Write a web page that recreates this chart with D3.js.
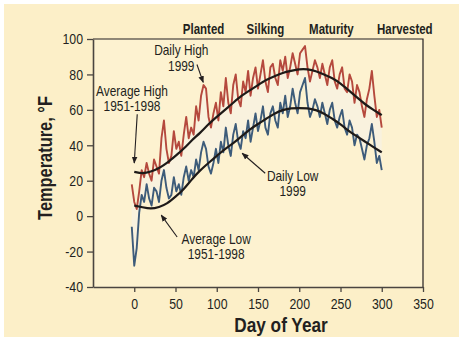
<!DOCTYPE html>
<html>
<head>
<meta charset="utf-8">
<script src="https://cdn.jsdelivr.net/npm/d3@7"></script>
<style>
  html, body { margin: 0; padding: 0; background: #ffffff; }
  svg { display: block; }
  text { font-family: "Liberation Sans", Arial, sans-serif; fill: #231f20; }
</style>
</head>
<body>
<div id="chart"></div>
<script>
// 30-year averages, every 10 days
const avgDays = [0, 10, 20, 30, 40, 50, 60, 70, 80, 90, 100, 110, 120, 130, 140, 150,
  160, 170, 180, 190, 200, 210, 220, 230, 240, 250, 260, 270, 280, 290, 300];
const avgHigh = [25, 24, 25, 27, 30, 34, 38, 43, 47, 52, 56, 60, 64, 68, 71, 74,
  77, 79, 81, 82, 83, 83, 82, 80, 78, 75, 71, 67, 63, 60, 57];
const avgLow = [6, 5, 4, 5, 7, 11, 15, 21, 26, 30, 34, 38, 41, 45, 49, 52,
  55, 58, 60, 61, 61, 61, 60, 58, 55, 52, 48, 45, 42, 39, 36];

// 1999 daily readings, read every 3rd day from day -3
const dailyDays = [-3, 0, 3, 6, 9, 12, 15, 18, 21, 24, 27, 30, 33, 36, 39, 42, 45, 48, 51, 54,
  57, 60, 63, 66, 69, 72, 75, 78, 81, 84, 87, 90, 93, 96, 99, 102, 105, 108, 111, 114,
  117, 120, 123, 126, 129, 132, 135, 138, 141, 144, 147, 150, 153, 156, 159, 162, 165, 168, 171, 174,
  177, 180, 183, 186, 189, 192, 195, 198, 201, 204, 207, 210, 213, 216, 219, 222, 225, 228, 231, 234,
  237, 240, 243, 246, 249, 252, 255, 258, 261, 264, 267, 270, 273, 276, 279, 282, 285, 288, 291, 294,
  297, 300];
const dailyHigh = [18, 8, 4, 14, 26, 22, 30, 24, 20, 32, 28, 24, 44, 54, 38, 30, 34, 48, 38, 42,
  34, 46, 56, 44, 50, 46, 62, 54, 68, 74, 72, 56, 50, 58, 64, 54, 70, 62, 78, 64,
  58, 74, 80, 66, 62, 76, 70, 82, 68, 78, 84, 72, 80, 88, 76, 70, 84, 86, 78, 74,
  88, 82, 90, 78, 84, 92, 86, 80, 92, 94, 96, 84, 76, 82, 88, 84, 78, 86, 80, 74,
  84, 88, 76, 72, 80, 84, 72, 70, 80, 76, 64, 74, 70, 62, 56, 66, 72, 82, 68, 56,
  60, 50];
const dailyLow = [-6, -28, -18, 2, 12, 8, 18, 10, 6, 16, 14, 8, 20, 26, 16, 10, 12, 22, 14, 18,
  12, 22, 28, 20, 26, 22, 32, 26, 36, 42, 38, 28, 24, 30, 38, 30, 42, 36, 50, 40,
  34, 46, 52, 42, 38, 48, 44, 54, 42, 50, 58, 48, 54, 62, 50, 46, 58, 62, 54, 50,
  64, 58, 68, 56, 62, 72, 64, 58, 70, 74, 78, 64, 56, 60, 66, 62, 56, 64, 58, 52,
  60, 64, 54, 50, 56, 60, 50, 46, 54, 50, 40, 46, 44, 38, 32, 40, 44, 52, 42, 30,
  34, 26];

const stageNames = ["Planted", "Silking", "Maturity", "Harvested"];
const stageDays = [118, 202, 271, 300];

const xTicks = [0, 50, 100, 150, 200, 250, 300, 350];
const yTicks = [-40, -20, 0, 20, 40, 60, 80, 100];

const W = 459, H = 343;
const plot = { left: 93, right: 423, top: 39, bottom: 287 };
const NARROW = 0.82; // squeeze Liberation Sans to a narrow cut

function narrow(sel) {
  sel.each(function () {
    const w = this.getComputedTextLength();
    d3.select(this).attr("textLength", w * NARROW).attr("lengthAdjust", "spacingAndGlyphs");
  });
}

const svg = d3.select("#chart").append("svg")
  .attr("width", W).attr("height", H);

const defs = svg.append("defs");
defs.append("filter").attr("id", "soft")
  .append("feGaussianBlur").attr("stdDeviation", 0.6);
defs.append("marker")
  .attr("id", "arrow")
  .attr("viewBox", "0 0 10 10")
  .attr("refX", 9).attr("refY", 5)
  .attr("markerWidth", 7).attr("markerHeight", 7)
  .attr("markerUnits", "userSpaceOnUse")
  .attr("orient", "auto")
  .append("path").attr("d", "M0,1 L10,5 L0,9 Z").attr("fill", "#231f20");

// cream panel
svg.append("rect")
  .attr("x", 4).attr("y", 4).attr("width", W - 4).attr("height", 333)
  .attr("fill", "#fcefc8");
svg.append("rect")
  .attr("x", plot.left).attr("y", plot.top)
  .attr("width", plot.right - plot.left).attr("height", plot.bottom - plot.top)
  .attr("fill", "#fdf2d0");

const x = d3.scaleLinear().domain([-50, 350]).range([plot.left, plot.right]);
const y = d3.scaleLinear().domain([-40, 100]).range([plot.bottom, plot.top]);

// growth stage lines
svg.append("g").selectAll("line")
  .data(stageDays)
  .enter().append("line")
  .attr("x1", d => x(d)).attr("x2", d => x(d))
  .attr("y1", plot.top).attr("y2", plot.bottom)
  .attr("stroke", "#bcaa86")
  .attr("stroke-width", 3.2)
  .attr("opacity", 0.85)
  .attr("filter", "url(#soft)");

const stageLabelDays = [84, 159, 239, 328];
svg.append("g").selectAll("text")
  .data(stageNames)
  .enter().append("text")
  .attr("x", (d, i) => x(stageLabelDays[i]))
  .attr("y", 34)
  .attr("text-anchor", "middle")
  .style("font-size", "14px")
  .style("font-weight", "bold")
  .text(d => d)
  .call(narrow);

// daily 1999 series
const daily = dailyDays.map((d, i) => ({ day: d, hi: dailyHigh[i], lo: dailyLow[i] }));
const series = svg.append("g").attr("filter", "url(#soft)");

series.append("path")
  .datum(daily)
  .attr("fill", "#f7f1e8")
  .attr("opacity", 0.6)
  .attr("d", d3.area().x(d => x(d.day)).y0(d => y(d.lo)).y1(d => y(d.hi)));

series.append("path")
  .datum(daily)
  .attr("fill", "none")
  .attr("stroke", "#b5493d")
  .attr("stroke-width", 1.9)
  .attr("stroke-linejoin", "round")
  .attr("d", d3.line().x(d => x(d.day)).y(d => y(d.hi)));

series.append("path")
  .datum(daily)
  .attr("fill", "none")
  .attr("stroke", "#3e5b7a")
  .attr("stroke-width", 1.9)
  .attr("stroke-linejoin", "round")
  .attr("d", d3.line().x(d => x(d.day)).y(d => y(d.lo)));

// long-term averages
const avgLine = d3.line()
  .curve(d3.curveBasis)
  .x((d, i) => x(avgDays[i]))
  .y(d => y(d));

[avgHigh, avgLow].forEach(vals => {
  svg.append("path")
    .attr("fill", "none")
    .attr("stroke", "#1e1a18")
    .attr("stroke-width", 2.2)
    .attr("d", avgLine(vals));
});

// frame
svg.append("path")
  .attr("d", `M${plot.left},${plot.top}H${plot.right}V${plot.bottom}`)
  .attr("fill", "none")
  .attr("stroke", "#231f20")
  .attr("stroke-width", 1.2);

// axes
const xAxis = svg.append("g")
  .attr("transform", `translate(0,${plot.bottom})`)
  .call(d3.axisBottom(x).tickValues(xTicks).tickSize(5).tickSizeOuter(0).tickPadding(6));
const yAxis = svg.append("g")
  .attr("transform", `translate(${plot.left},0)`)
  .call(d3.axisLeft(y).tickValues(yTicks).tickSize(6).tickSizeOuter(0).tickPadding(4)
    .tickFormat(d => String(d)));

[xAxis, yAxis].forEach(g => {
  g.select(".domain").attr("stroke", "#4a4540").attr("stroke-width", 1.6);
  g.selectAll(".tick line").attr("stroke", "#4a4540").attr("stroke-width", 1.3);
  g.selectAll(".tick text")
    .style("font-family", '"Liberation Sans", Arial, sans-serif')
    .style("font-size", "15px")
    .attr("fill", "#231f20")
    .call(narrow);
});

svg.append("text")
  .attr("transform", `translate(52,158) rotate(-90)`)
  .attr("text-anchor", "middle")
  .style("font-size", "20px")
  .style("font-weight", "bold")
  .text("Temperature, °F")
  .call(narrow);

svg.append("text")
  .attr("x", 281).attr("y", 332)
  .attr("text-anchor", "middle")
  .style("font-size", "21px")
  .style("font-weight", "bold")
  .text("Day of Year")
  .call(narrow);

// callouts, in data units
const notes = [
  { lines: ["Daily High", "1999"], at: [57, 90.7, 82.2], from: [76, 85.6], to: [83.6, 75.5] },
  { lines: ["Average High", "1951-1998"], at: [-2.7, 67.6, 59.2], from: [3.6, 57.5], to: [0, 30] },
  { lines: ["Daily Low", "1999"], at: [192, 19.7, 11.3], from: [158.7, 24.2], to: [130.8, 35.5] },
  { lines: ["Average Low", "1951-1998"], at: [99.3, -15.8, -24.2], from: [52, -11.8], to: [32.7, 0.6] }
];

const noteG = svg.append("g");
notes.forEach(n => {
  n.lines.forEach((t, i) => {
    noteG.append("text")
      .attr("x", x(n.at[0]))
      .attr("y", y(n.at[1 + i]))
      .attr("text-anchor", "middle")
      .style("font-size", "14.5px")
      .text(t)
      .call(narrow);
  });
  noteG.append("line")
    .attr("x1", x(n.from[0])).attr("y1", y(n.from[1]))
    .attr("x2", x(n.to[0])).attr("y2", y(n.to[1]))
    .attr("stroke", "#231f20")
    .attr("stroke-width", 1.1)
    .attr("marker-end", "url(#arrow)");
});
</script>
</body>
</html>
